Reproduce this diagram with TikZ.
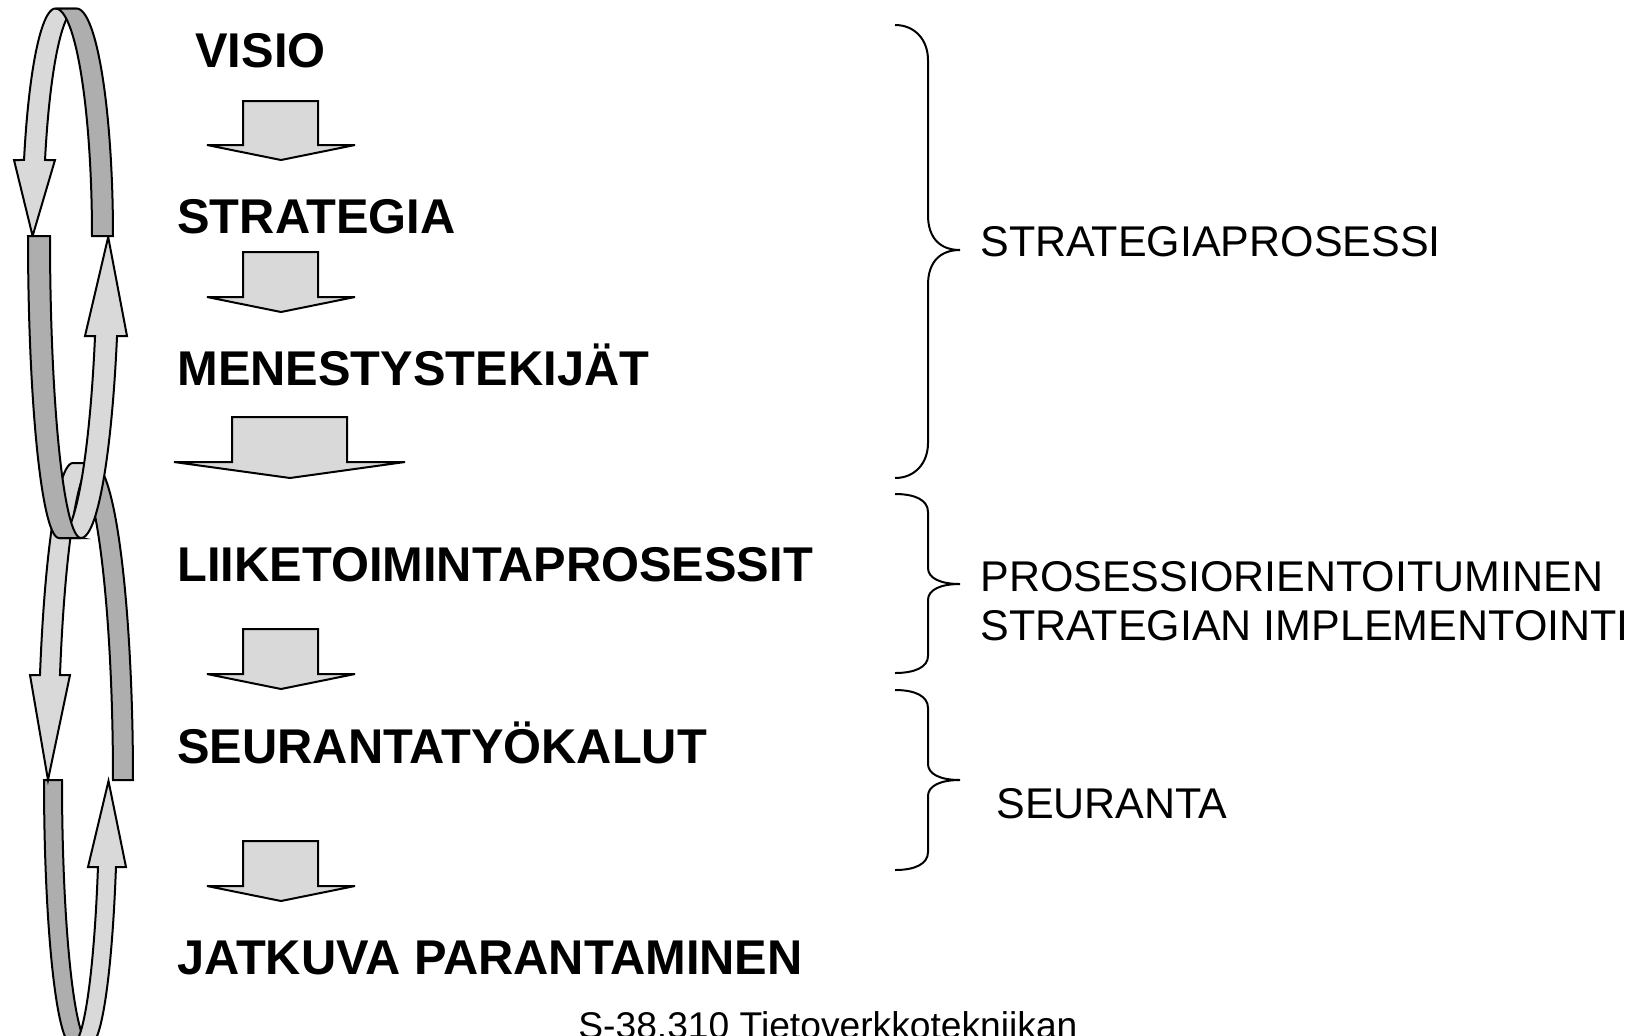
\documentclass[tikz,border=0pt]{standalone}
\usepackage{fontspec}
\setmainfont{Liberation Sans}
\definecolor{lightribbon}{RGB}{217,217,217}
\definecolor{darkribbon}{RGB}{174,174,174}

\begin{document}
\begin{tikzpicture}[x=0.5pt,y=-0.5pt,
	itemtext/.style={anchor=base west,inner sep=0,font=\fontsize{24.4}{29}\selectfont\bfseries},
	sidetext/.style={anchor=base west,inner sep=0,font=\fontsize{21.5}{25}\selectfont},
	footertext/.style={anchor=base west,inner sep=0,font=\fontsize{18.6}{22}\selectfont},
	lightband/.style={draw,line width=1pt,fill=lightribbon},
	darkband/.style={draw,line width=1pt,fill=darkribbon},
	blockarrow/.style={draw,line width=1pt,fill=lightribbon},
	curly/.style={draw,line width=1pt}]
	\useasboundingbox (0,0) rectangle (1634,1035);
	% lower loop
	\draw[darkband] plot[domain=90:0,samples=40] ({93+40*cos(\x)},{780-317*sin(\x)}) -- plot[domain=0:90,samples=40] ({73+40*cos(\x)},{780-317*sin(\x)}) -- cycle;
	\draw[darkband] plot[domain=180:270,samples=40] ({72+28*cos(\x)},{780-265*sin(\x)}) -- plot[domain=270:180,samples=40] ({90+28*cos(\x)},{780-265*sin(\x)}) -- cycle;
	\draw[lightband] plot[domain=90:160.66,samples=40] ({73+35*cos(\x)},{780-317*sin(\x)}) -- (30,675) -- (48,780) -- (70,675) -- plot[domain=160.66:90,samples=40] ({93+35*cos(\x)},{780-317*sin(\x)}) -- cycle;
	\draw[lightband] plot[domain=-90:-19.17,samples=40] ({90+27.5*cos(\x)},{780-265*sin(\x)}) -- (126,867) -- (108.5,781) -- (88,867) -- plot[domain=-19.17:-90,samples=40] ({72+27.5*cos(\x)},{780-265*sin(\x)}) -- cycle;
	% upper loop
	\draw[lightband] plot[domain=90:160.48,samples=40] ({55.5+33.4*cos(\x)},{236-227.5*sin(\x)}) -- (14,160) -- (32.6,236) -- (55,160) -- plot[domain=160.48:90,samples=40] ({76.5+33.4*cos(\x)},{236-227.5*sin(\x)}) -- cycle;
	\draw[lightband] plot[domain=-90:-19.34,samples=40] ({81+38.2*cos(\x)},{236-302*sin(\x)}) -- (127,336) -- (108.2,237) -- (85,336) -- plot[domain=-19.34:-90,samples=40] ({59+38.2*cos(\x)},{236-302*sin(\x)}) -- cycle;
	\draw[darkband] plot[domain=90:0,samples=40] ({76.5+36.5*cos(\x)},{236-227.5*sin(\x)}) -- plot[domain=0:90,samples=40] ({55.5+36.5*cos(\x)},{236-227.5*sin(\x)}) -- cycle;
	\draw[darkband] plot[domain=180:270,samples=40] ({59+31*cos(\x)},{236-302*sin(\x)}) -- plot[domain=270:180,samples=40] ({81+31*cos(\x)},{236-302*sin(\x)}) -- cycle;
	% steps
	\node[itemtext] (visio) at (195,67) {VISIO};
	\node[itemtext] (strategia) at (177,233) {STRATEGIA};
	\node[itemtext] (menestys) at (177,385) {MENESTYSTEKIJÄT};
	\node[itemtext] (liiketoiminta) at (177,581) {LIIKETOIMINTAPROSESSIT};
	\node[itemtext] (seuranta) at (177,763) {SEURANTATYÖKALUT};
	\node[itemtext] (jatkuva) at (177,974) {JATKUVA PARANTAMINEN};
	\draw[blockarrow] (243,101) -- (318,101) -- (318,145) -- (355,145) -- (281,160) -- (207,145) -- (243,145) -- cycle;
	\draw[blockarrow] (243,252) -- (318,252) -- (318,297) -- (355,297) -- (281,312) -- (207,297) -- (243,297) -- cycle;
	\draw[blockarrow] (232,417) -- (347,417) -- (347,462) -- (405,462) -- (290,478) -- (174,462) -- (232,462) -- cycle;
	\draw[blockarrow] (243,629) -- (318,629) -- (318,674) -- (355,674) -- (281,689) -- (207,674) -- (243,674) -- cycle;
	\draw[blockarrow] (243,841) -- (318,841) -- (318,886) -- (355,886) -- (281,901) -- (207,886) -- (243,886) -- cycle;
	% braces
	\draw[curly] (895,25) .. controls (915,25) and (928,40) .. (928,60) -- (928,215) .. controls (928,238) and (940,250) .. (960,250) .. controls (940,250) and (928,262) .. (928,285) -- (928,443) .. controls (928,463) and (915,478) .. (895,478);
	\draw[curly] (895,494) .. controls (915,494) and (928,500) .. (928,512) -- (928,568) .. controls (928,578) and (940,584) .. (960,584) .. controls (940,584) and (928,590) .. (928,600) -- (928,656) .. controls (928,667) and (915,673) .. (895,673);
	\draw[curly] (895,690) .. controls (915,690) and (928,696) .. (928,708) -- (928,764) .. controls (928,774) and (940,780) .. (960,780) .. controls (940,780) and (928,786) .. (928,796) -- (928,852) .. controls (928,864) and (915,870) .. (895,870);
	\node[sidetext] (strategiaprosessi) at (980,256) {STRATEGIAPROSESSI};
	\node[sidetext] (prosessi) at (980,591) {PROSESSIORIENTOITUMINEN};
	\node[sidetext] (implementointi) at (980,640) {STRATEGIAN IMPLEMENTOINTI};
	\node[sidetext] (seurantalabel) at (996,818) {SEURANTA};
	\node[footertext] (kurssi) at (578,1038) {S-38.310 Tietoverkkotekniikan};
\end{tikzpicture}
\end{document}
